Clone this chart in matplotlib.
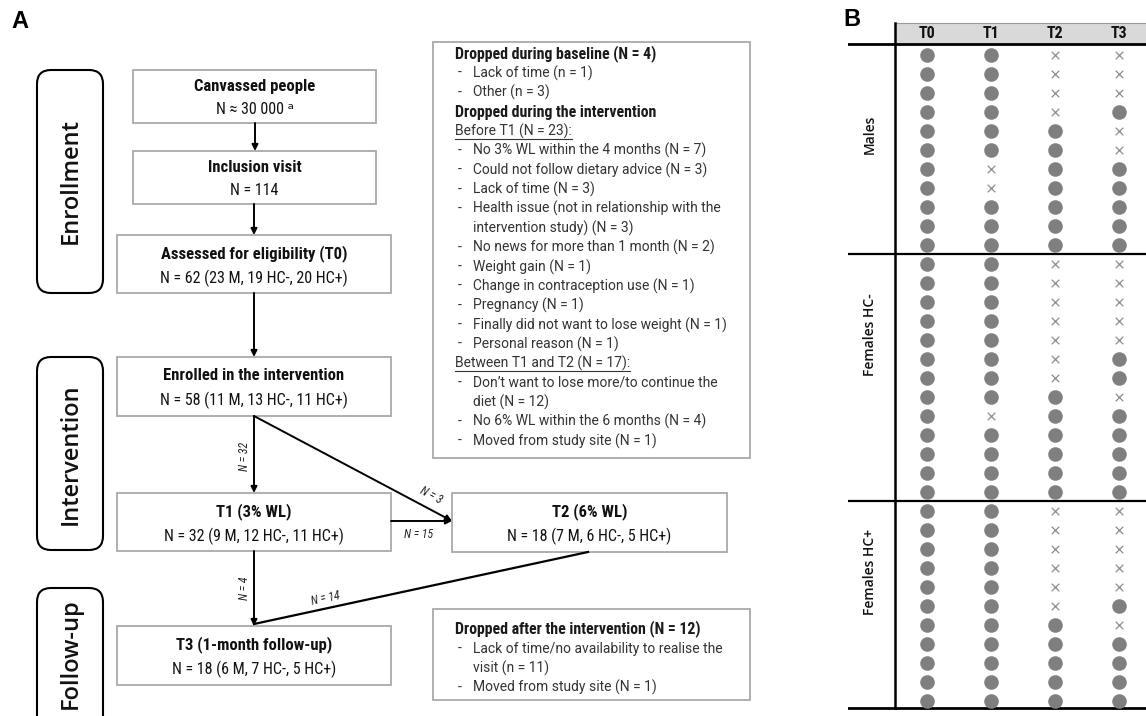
import matplotlib
matplotlib.use("Agg")
import matplotlib.pyplot as plt
from matplotlib import font_manager as fm
from matplotlib.patches import Rectangle, FancyBboxPatch

names = {f.name for f in fm.fontManager.ttflist}


def pick(*cands):
    for c in cands:
        if c in names:
            return c
    return "DejaVu Sans"


COND = pick("Roboto Condensed", "Liberation Sans Narrow", "DejaVu Sans")
REG = pick("Roboto", "Lato", "DejaVu Sans")
SANS = pick("Open Sans", "DejaVu Sans")
ARIAL = pick("Liberation Sans", "DejaVu Sans")

# ---- panel A data -------------------------------------------------------
STAGES = ["Enrollment", "Intervention", "Follow-up"]
BOX_TITLES = ["Canvassed people", "Inclusion visit", "Assessed for eligibility (T0)",
              "Enrolled in the intervention", "T1 (3% WL)", "T2 (6% WL)",
              "T3 (1-month follow-up)"]
BOX_COUNTS = ["N \u2248 30 000 \u1d43", "N = 114", "N = 62 (23 M, 19 HC-, 20 HC+)",
              "N = 58 (11 M, 13 HC-, 11 HC+)", "N = 32 (9 M, 12 HC-, 11 HC+)",
              "N = 18 (7 M, 6 HC-, 5 HC+)", "N = 18 (6 M, 7 HC-, 5 HC+)"]
FLOW_LABELS = ["N = 32", "N = 3", "N = 15", "N = 4", "N = 14"]

DROP_LINES = [
    ("h", "Dropped during baseline (N = 4)"),
    ("b", "Lack of time (n = 1)"),
    ("b", "Other (n = 3)"),
    ("h", "Dropped during the intervention"),
    ("u", "Before T1 (N = 23):"),
    ("b", "No 3% WL within the 4 months (N = 7)"),
    ("b", "Could not follow dietary advice (N = 3)"),
    ("b", "Lack of time (N = 3)"),
    ("b", "Health issue (not in relationship with the"),
    ("c", "intervention study) (N = 3)"),
    ("b", "No news for more than 1 month (N = 2)"),
    ("b", "Weight gain (N = 1)"),
    ("b", "Change in contraception use (N = 1)"),
    ("b", "Pregnancy (N = 1)"),
    ("b", "Finally did not want to lose weight (N = 1)"),
    ("b", "Personal reason (N = 1)"),
    ("u", "Between T1 and T2 (N = 17):"),
    ("b", "Don\u2019t want to lose more/to continue the"),
    ("c", "diet (N = 12)"),
    ("b", "No 6% WL within the 6 months (N = 4)"),
    ("b", "Moved from study site (N = 1)"),
]
AFTER_LINES = [
    ("h", "Dropped after the intervention (N = 12)"),
    ("b", "Lack of time/no availability to realise the"),
    ("c", "visit (n = 11)"),
    ("b", "Moved from study site (N = 1)"),
]

# ---- panel B data (o = present, x = missing) ----------------------------
TIMEPOINTS = ["T0", "T1", "T2", "T3"]
GROUPS = ["Males", "Females HC-", "Females HC+"]
MALES = ["ooxx", "ooxx", "ooxx", "ooxo", "ooox", "ooox", "oxoo", "oxoo",
         "oooo", "oooo", "oooo"]
HC_NEG = ["ooxx", "ooxx", "ooxx", "ooxx", "ooxx", "ooxo", "ooxo", "ooox",
          "oxoo", "oooo", "oooo", "oooo", "oooo"]
HC_POS = ["ooxx", "ooxx", "ooxx", "ooxx", "ooxx", "ooxo", "ooox", "oooo",
          "oooo", "oooo", "oooo"]

fig = plt.figure(figsize=(11.46, 7.16), dpi=100)
ax = fig.add_axes([0, 0, 1, 1])
ax.set_xlim(0, 1146)
ax.set_ylim(716, 0)
ax.axis("off")

# stage pills
pills = [(37, 70, 223, 181), (37, 357, 193, 454), (37, 588, 150, 654)]
for label, (x, y, h, ty) in zip(STAGES, pills):
    ax.add_patch(FancyBboxPatch((x, y), 66, h, boxstyle="round,pad=0,rounding_size=14",
                                fc="white", ec="black", lw=1.5, clip_on=True))
    ax.text(x + 34, ty, label, rotation=90, ha="center", va="center",
            fontsize=17, family=SANS, fontweight="semibold", color="#111111")

# flow boxes
boxes = [(133, 70, 243, 53), (133, 151, 243, 53), (117, 235, 274, 58),
         (117, 357, 274, 59), (117, 493, 274, 58), (452, 493, 275, 59),
         (117, 626, 274, 59)]
for title, count, (x, y, w, h) in zip(BOX_TITLES, BOX_COUNTS, boxes):
    ax.add_patch(Rectangle((x, y), w, h, fc="white", ec="#a9a9a9", lw=1.3))
    ax.text(x + w / 2, y + h * 0.32, title, ha="center", va="center",
            fontsize=12, family=[COND, "DejaVu Sans"], fontweight="bold", color="#111111")
    ax.text(x + w / 2, y + h * 0.74, count, ha="center", va="center",
            fontsize=11.5, family=[COND, "DejaVu Sans"], color="#111111")

arrow = dict(arrowstyle="-|>", color="black", lw=1.4, mutation_scale=9,
             shrinkA=0, shrinkB=0)
for (x0, y0), (x1, y1) in [((255, 123), (255, 151)), ((254, 204), (254, 235)),
                           ((254, 293), (254, 357)), ((254, 416), (254, 493)),
                           ((254, 416), (452, 521)), ((391, 521), (452, 521)),
                           ((254, 551), (254, 626))]:
    ax.annotate("", xy=(x1, y1), xytext=(x0, y0), arrowprops=arrow)
ax.plot([588, 254], [552, 624], color="black", lw=1.6)

lab_kw = dict(ha="center", va="center", fontsize=8.5, family=COND,
              style="italic", color="#222222")
ax.text(244, 456, FLOW_LABELS[0], rotation=90, **lab_kw)
ax.text(431, 495, FLOW_LABELS[1], rotation=-28, **lab_kw)
ax.text(419, 535, FLOW_LABELS[2], **lab_kw)
ax.text(244, 588, FLOW_LABELS[3], rotation=90, **lab_kw)
ax.text(326, 599, FLOW_LABELS[4], rotation=12, **lab_kw)

# drop boxes
ax.add_patch(Rectangle((433, 42), 317, 416, fc="white", ec="#a9a9a9", lw=1.3))
ax.add_patch(Rectangle((433, 609), 317, 91, fc="white", ec="#a9a9a9", lw=1.3))

underlined = []


def write_lines(lines, y0, step):
    for i, (kind, txt) in enumerate(lines):
        y = y0 + i * step
        if kind == "h":
            ax.text(455, y, txt, ha="left", va="center", fontsize=11.4,
                    family=COND, fontweight="bold", color="#1a1a1a")
        elif kind == "u":
            t = ax.text(455, y, txt, ha="left", va="center", fontsize=10,
                        family=REG, color="#333333")
            underlined.append((t, y))
        else:
            if kind == "b":
                ax.text(458, y, "-", ha="left", va="center", fontsize=10,
                        family=REG, color="#333333")
            ax.text(473, y, txt, ha="left", va="center", fontsize=10,
                    family=REG, color="#333333")


write_lines(DROP_LINES, 54, 19.35)
write_lines(AFTER_LINES, 629, 19.5)

fig.text(20 / 1146, 1 - 22 / 716, "A", fontsize=17, fontweight="bold",
         family=ARIAL, ha="center", va="center")
fig.text(852 / 1146, 1 - 20 / 716, "B", fontsize=17, fontweight="bold",
         family=ARIAL, ha="center", va="center")

# ---- panel B -------------------------------------------------------------
axB = fig.add_axes([848 / 1146, 1 - 712 / 716, (1146 - 848) / 1146, (712 - 22) / 716])
axB.set_xlim(-1.234, 3.422)
axB.set_ylim(34.58, -1.737)
axB.axis("off")

axB.add_patch(Rectangle((-0.5, -1.68), 4.5, 1.1, fc="#d9d9d9", ec="#9a9a9a", lw=0.8))
for i, tp in enumerate(TIMEPOINTS):
    axB.text(i, -1.12, tp, ha="center", va="center", fontsize=11.5,
             family=COND, fontweight="bold", color="#111111")

groups = [MALES, HC_NEG, HC_POS]
label_rows = [4.2, 14.7, 27.2]
total = sum(len(g) for g in groups)
start = 0
for name, rows, lrow in zip(GROUPS, groups, label_rows):
    for r, code in enumerate(rows):
        for c, flag in enumerate(code):
            if flag == "o":
                axB.scatter(c, start + r, s=110, color="#7f7f7f", lw=0, zorder=3)
            else:
                axB.scatter(c, start + r, s=30, marker="x", color="#8c8c8c",
                            lw=0.9, zorder=3)
    axB.text(-0.89, lrow, name, rotation=90, ha="center",
             va="center", fontsize=10, family=SANS, fontweight="semibold",
             color="#111111")
    start += len(rows)
    if start < total:
        axB.axhline(start - 0.5, color="black", lw=1.6)
    else:
        axB.axhline(start - 0.63, color="black", lw=2.0)

axB.axhline(-0.58, color="black", lw=2.0)
axB.plot([-0.5, -0.5], [-1.68, 34.37], color="black", lw=1.8)

# underline for the sub-headings
fig.canvas.draw()
rend = fig.canvas.get_renderer()
inv = ax.transData.inverted()
for t, y in underlined:
    bb = t.get_window_extent(rend)
    (xa, _), (xb, _) = inv.transform([(bb.x0, bb.y0), (bb.x1, bb.y0)])
    ax.plot([xa, xb], [y + 7.5, y + 7.5], color="#333333", lw=0.8)

fig.savefig("out.png", dpi=100)
